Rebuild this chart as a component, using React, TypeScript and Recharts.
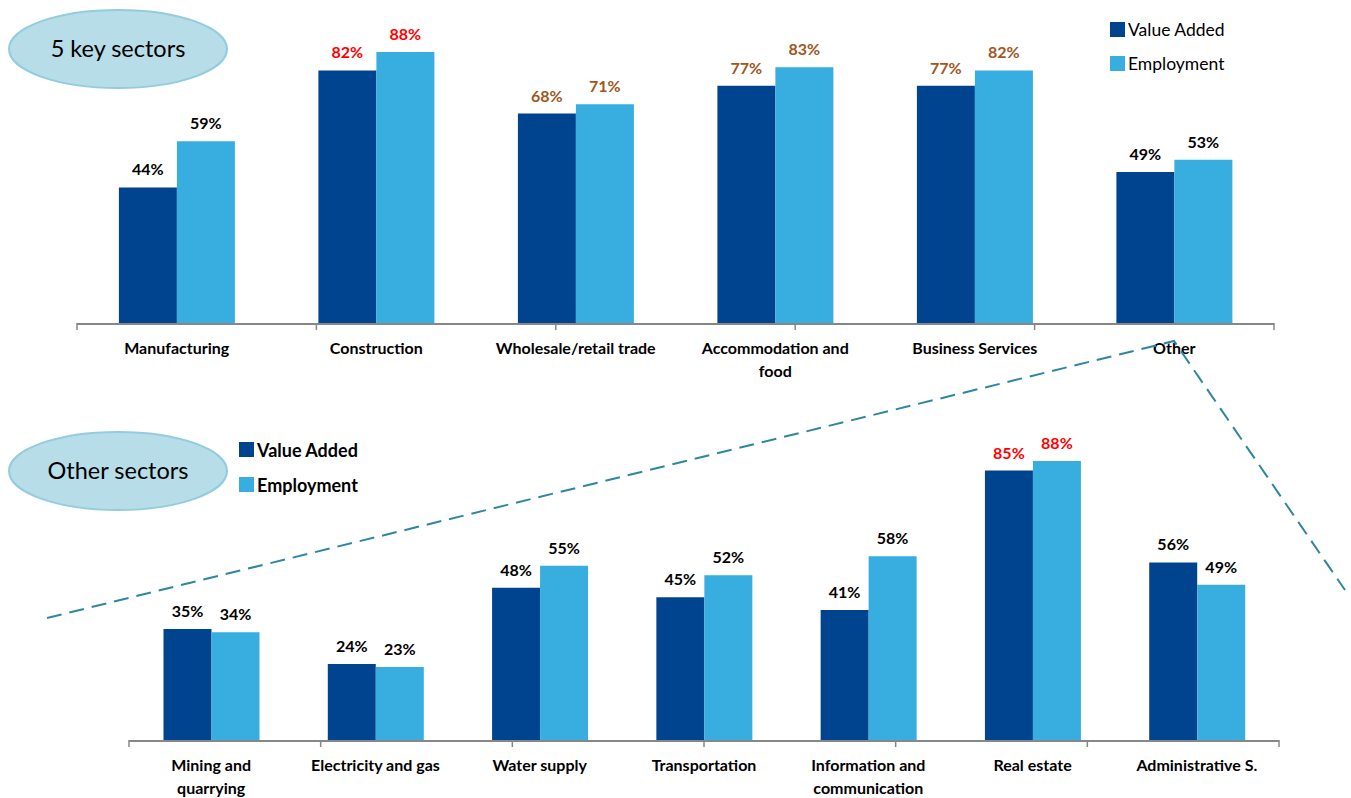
import React from 'react';
import { BarChart, Bar, XAxis, YAxis, LabelList, Legend, Text } from 'recharts';

// ---- Data ----
const topCategories = ['Manufacturing', 'Construction', 'Wholesale/retail trade', 'Accommodation and food', 'Business Services', 'Other'];
const topValueAdded = [44, 82, 68, 77, 77, 49];
const topEmployment = [59, 88, 71, 83, 82, 53];

const bottomCategories = ['Mining and quarrying', 'Electricity and gas', 'Water supply', 'Transportation', 'Information and communication', 'Real estate', 'Administrative S.'];
const bottomValueAdded = [35, 24, 48, 45, 41, 85, 56];
const bottomEmployment = [34, 23, 55, 52, 58, 88, 49];

const seriesNames = ['Value Added', 'Employment'];

// highlight groups for value labels
const topRed = ['Construction'];
const topBrown = ['Wholesale/retail trade', 'Accommodation and food', 'Business Services'];
const bottomRed = ['Real estate'];

const VA_COLOR = '#00448F';
const EMP_COLOR = '#38ADDF';
const RED = '#FF0000';
const BROWN = '#A0561E';
const FONT = 'Lato, "Open Sans", sans-serif';

const topData = topCategories.map((c, i) => ({ name: c, va: topValueAdded[i], emp: topEmployment[i] }));
const bottomData = bottomCategories.map((c, i) => ({ name: c, va: bottomValueAdded[i], emp: bottomEmployment[i] }));

const makeTick = (maxW: number) => (props: any) => {
  const { x, y, payload } = props;
  return (
    <Text
      x={x}
      y={y + 19}
      width={maxW}
      textAnchor="middle"
      verticalAnchor="start"
      lineHeight={23}
      style={{ fontFamily: FONT, fontWeight: 700, fontSize: 16 }}
      fill="#000"
    >
      {payload.value}
    </Text>
  );
};

const makeValueLabel = (data: any[], red: string[], brown: string[]) => (props: any) => {
  const { x, y, width, value, index } = props;
  const name = data[index]?.name;
  const fill = red.includes(name) ? RED : brown.includes(name) ? BROWN : '#000';
  return (
    <text
      x={x + width / 2}
      y={y - 12}
      textAnchor="middle"
      fill={fill}
      style={{ fontFamily: FONT, fontWeight: 700, fontSize: 16 }}
    >
      {value}%
    </text>
  );
};

const LegendBox = ({ bold, size, gap }: { bold: boolean; size: number; gap: number }) => (
  <div style={{ fontFamily: FONT, fontSize: size, fontWeight: bold ? 700 : 400, color: '#000' }}>
    {seriesNames.map((n, i) => (
      <div key={n} style={{ display: 'flex', alignItems: 'center', height: gap }}>
        <span style={{ display: 'inline-block', width: 15, height: 15, background: i === 0 ? VA_COLOR : EMP_COLOR, marginRight: 3 }} />
        <span>{n}</span>
      </div>
    ))}
  </div>
);

const boundaryTicks = (n: number) => Array.from({ length: n + 1 }, (_, i) => i);
const EmptyTick = () => <g />;

export default function App() {
  return (
    <div style={{ position: 'absolute', left: 0, top: 0, width: 1351, height: 798, background: '#fff', overflow: 'hidden' }}>
      {/* Top chart */}
      <div style={{ position: 'absolute', left: 0, top: 0 }}>
        <BarChart width={1351} height={400} data={topData} margin={{ top: 15, right: 77, left: 77, bottom: 0 }} barCategoryGap="21%" barGap={0}>
          <YAxis hide domain={[0, 100]} />
          <XAxis xAxisId="bound" type="number" domain={[0, topCategories.length]} ticks={boundaryTicks(topCategories.length)} height={1} tick={EmptyTick} axisLine={false} tickSize={7} tickLine={{ stroke: '#878787', strokeWidth: 1.5 }} allowDataOverflow />
          <XAxis dataKey="name" xAxisId="cat" height={76} tickLine={false} tickSize={0} tickMargin={0} axisLine={{ stroke: '#878787', strokeWidth: 2 }} interval={0} tick={makeTick(172)} />
          <Legend layout="vertical" align="center" verticalAlign="middle" wrapperStyle={{ position: 'absolute', left: 1110, top: 12, width: 200 }} content={() => <LegendBox bold={false} size={17.5} gap={34} />} />
          <Bar xAxisId="cat" dataKey="va" name={seriesNames[0]} fill={VA_COLOR} isAnimationActive={false}>
            <LabelList dataKey="va" content={makeValueLabel(topData, topRed, topBrown)} />
          </Bar>
          <Bar xAxisId="cat" dataKey="emp" name={seriesNames[1]} fill={EMP_COLOR} isAnimationActive={false}>
            <LabelList dataKey="emp" content={makeValueLabel(topData, topRed, topBrown)} />
          </Bar>
        </BarChart>
      </div>

      {/* Bottom chart */}
      <div style={{ position: 'absolute', left: 0, top: 400 }}>
        <BarChart width={1351} height={398} data={bottomData} margin={{ top: 23, right: 72, left: 129, bottom: 0 }} barCategoryGap="21%" barGap={0}>
          <YAxis hide domain={[0, 100]} />
          <XAxis xAxisId="bound" type="number" domain={[0, bottomCategories.length]} ticks={boundaryTicks(bottomCategories.length)} height={1} tick={EmptyTick} axisLine={false} tickSize={7} tickLine={{ stroke: '#878787', strokeWidth: 1.5 }} allowDataOverflow />
          <XAxis dataKey="name" xAxisId="cat" height={57} tickLine={false} tickSize={0} tickMargin={0} axisLine={{ stroke: '#878787', strokeWidth: 2 }} interval={0} tick={makeTick(140)} />
          <Legend layout="vertical" align="center" verticalAlign="middle" wrapperStyle={{ position: 'absolute', left: 239, top: 32, width: 200 }} content={() => <LegendBox bold={true} size={18} gap={35} />} />
          <Bar xAxisId="cat" dataKey="va" name={seriesNames[0]} fill={VA_COLOR} isAnimationActive={false}>
            <LabelList dataKey="va" content={makeValueLabel(bottomData, bottomRed, [])} />
          </Bar>
          <Bar xAxisId="cat" dataKey="emp" name={seriesNames[1]} fill={EMP_COLOR} isAnimationActive={false}>
            <LabelList dataKey="emp" content={makeValueLabel(bottomData, bottomRed, [])} />
          </Bar>
        </BarChart>
      </div>

      {/* Decorations: ellipses and dashed zoom lines */}
      <svg width={1351} height={798} style={{ position: 'absolute', left: 0, top: 0, pointerEvents: 'none' }}>
        <ellipse cx={118} cy={49} rx={109} ry={39} fill="#B7DDE8" stroke="#93CDDD" strokeWidth={2} />
        <text x={118} y={57} textAnchor="middle" style={{ fontFamily: FONT, fontSize: 23.5 }} fill="#000">5 key sectors</text>
        <ellipse cx={118} cy={471} rx={109} ry={39} fill="#B7DDE8" stroke="#93CDDD" strokeWidth={2} />
        <text x={118} y={479} textAnchor="middle" style={{ fontFamily: FONT, fontSize: 23.5 }} fill="#000">Other sectors</text>
        <polyline points="47,618 1174,341 1345,590" fill="none" stroke="#2E86A0" strokeWidth={2} strokeDasharray="15 8" />
      </svg>
    </div>
  );
}
